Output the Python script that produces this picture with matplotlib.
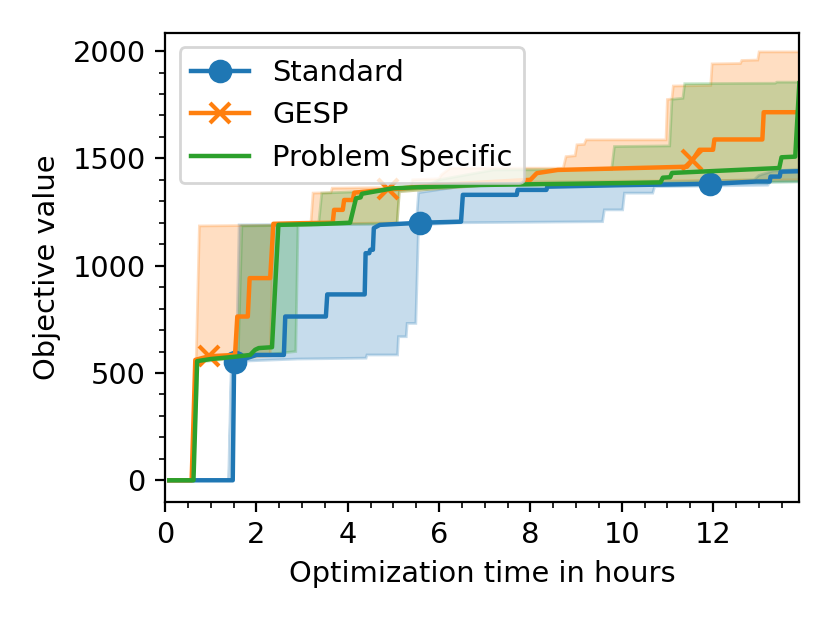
import matplotlib
matplotlib.use("Agg")
import matplotlib.pyplot as plt
import numpy as np

plt.rcParams['font.size'] = 10.4

# median curves (hours, objective value)
std_t = [0.09, 1.48, 1.51, 1.53, 1.80, 2.00, 2.60, 2.63, 3.52, 3.55, 4.37, 4.39, 4.47, 4.49,
         4.55, 4.57, 4.70, 5.59, 6.48, 6.52, 7.70, 7.72, 8.35, 8.37, 10.0, 11.94, 12.95,
         13.24, 13.26, 13.46, 13.48, 13.89]
std_v = [0, 0, 550, 553, 570, 584, 584, 763, 763, 866, 866, 1058, 1058, 1074,
         1074, 1175, 1190, 1200, 1205, 1330, 1330, 1353, 1353, 1368, 1375, 1381, 1392,
         1392, 1415, 1415, 1438, 1440]
std_marks = [3, 17, 25]

gesp_t = [0.09, 0.58, 0.66, 0.96, 1.53, 1.58, 1.81, 1.85, 2.30, 2.37, 3.0, 3.67, 3.70, 3.89,
          3.92, 4.11, 4.14, 4.89, 6.0, 8.0, 8.14, 8.6, 11.43, 11.55, 11.70, 12.00, 12.03,
          13.08, 13.11, 13.89]
gesp_v = [0, 0, 561, 578, 584, 763, 763, 942, 942, 1195, 1198, 1200, 1260, 1260,
          1306, 1306, 1340, 1355, 1376, 1400, 1431, 1446, 1461, 1492, 1540, 1540, 1588,
          1588, 1715, 1715]
gesp_marks = [3, 17, 23]

ps_t = [0.09, 0.62, 0.70, 1.0, 1.5, 1.86, 1.97, 2.05, 2.34, 2.48, 3.5, 4.05, 4.18, 4.28,
        4.31, 5.0, 6.9, 10.04, 10.85, 10.90, 11.06, 11.10, 13.45, 13.50, 13.80, 13.89]
ps_v = [0, 0, 555, 565, 575, 584, 608, 616, 620, 1190, 1195, 1200, 1314, 1318,
        1335, 1361, 1376, 1385, 1388, 1410, 1412, 1432, 1455, 1505, 1508, 1850]

# spread bands (lower / upper)
std_up_t = [0.09, 1.39, 1.45, 1.56, 1.62, 5.50, 5.55, 6.5, 10.0, 12.9, 13.0, 13.3, 13.89]
std_up_v = [0, 0, 555, 560, 1190, 1195, 1340, 1370, 1385, 1400, 1420, 1440, 1450]
std_lo_t = [0.09, 1.40, 1.46, 2.9, 4.40, 4.42, 5.09, 5.11, 5.28, 5.30, 5.49, 5.55, 6.5,
            9.58, 9.62, 10.02, 10.06, 10.68, 10.72, 13.2, 13.25, 13.89]
std_lo_v = [0, 0, 553, 565, 569, 584, 584, 669, 669, 731, 731, 1190, 1200,
            1205, 1260, 1260, 1338, 1338, 1368, 1375, 1390, 1392]

gesp_up_t = [0.09, 0.58, 0.68, 0.75, 3.19, 3.24, 3.63, 3.66, 5.37, 5.42, 6.0, 6.05, 6.24,
             8.72, 8.78, 8.98, 9.02, 9.18, 9.22, 10.97, 11.0, 11.10, 11.13, 11.95, 11.98,
             12.60, 12.63, 12.98, 13.01, 13.89]
gesp_up_v = [0, 0, 560, 1185, 1190, 1338, 1340, 1361, 1365, 1400, 1405, 1423, 1454,
             1454, 1508, 1512, 1563, 1565, 1586, 1586, 1774, 1777, 1837, 1840, 1940,
             1942, 1956, 1958, 1996, 1996]
gesp_lo_t = [0.09, 0.62, 0.68, 2.30, 2.37, 5.08, 5.13, 8.0, 13.89]
gesp_lo_v = [0, 0, 555, 580, 1190, 1200, 1345, 1390, 1400]

ps_up_t = [0.09, 0.62, 0.70, 1.5, 1.60, 1.68, 3.36, 3.43, 5.55, 6.0, 7.19, 9.78, 9.84,
           11.05, 11.10, 11.34, 11.38, 13.36, 13.40, 13.89]
ps_up_v = [0, 0, 555, 578, 584, 1185, 1190, 1338, 1355, 1400, 1446, 1448, 1555,
           1558, 1775, 1780, 1848, 1850, 1855, 1855]
ps_lo_t = [0.09, 0.62, 0.72, 2.0, 2.86, 2.91, 5.08, 5.13, 7.0, 13.89]
ps_lo_v = [0, 0, 550, 580, 600, 1190, 1195, 1345, 1375, 1390]

fig = plt.figure(figsize=(4.15, 3.115), dpi=200)
fig.subplots_adjust(left=0.199, right=0.963, bottom=0.195, top=0.947)
ax = fig.add_subplot(111)

series = [
    ("Standard", "C0", "o", std_t, std_v, std_marks, std_lo_t, std_lo_v, std_up_t, std_up_v),
    ("GESP", "C1", "x", gesp_t, gesp_v, gesp_marks, gesp_lo_t, gesp_lo_v, gesp_up_t, gesp_up_v),
    ("Problem Specific", "C2", None, ps_t, ps_v, None, ps_lo_t, ps_lo_v, ps_up_t, ps_up_v),
]

for name, col, mk, t, v, marks, lo_t, lo_v, up_t, up_v in series:
    px = np.concatenate([lo_t, up_t[::-1]])
    py = np.concatenate([lo_v, up_v[::-1]])
    ax.fill(px, py, color=col, alpha=0.25, lw=1)
    ax.plot(t, v, color=col, lw=1.6, marker=mk, markevery=marks, markersize=7,
            markeredgewidth=1.5, label=name)

ax.set_xlim(0, 13.889)
ax.set_ylim(-99, 2084)
ax.set_xticks([0, 2, 4, 6, 8, 10, 12])
ax.set_yticks([0, 500, 1000, 1500, 2000])
ax.minorticks_on()
ax.set_xlabel("Optimization time in hours")
ax.set_ylabel("Objective value")
ax.legend(loc="upper left")

fig.savefig("out.png", dpi=200)
